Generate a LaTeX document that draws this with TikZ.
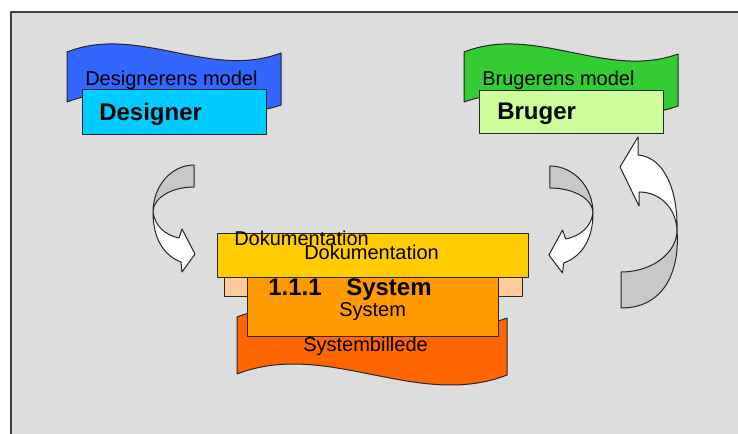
\documentclass[tikz,border=0pt]{standalone}
\usepackage{fontspec}
\setmainfont{Liberation Sans}
\definecolor{panelgray}{HTML}{DDDDDD}
\definecolor{frameline}{HTML}{404040}
\definecolor{waveblue}{HTML}{3366FF}
\definecolor{boxcyan}{HTML}{00CCFF}
\definecolor{wavegreen}{HTML}{33CC33}
\definecolor{boxlime}{HTML}{CCFF99}
\definecolor{docyellow}{HTML}{FFCC00}
\definecolor{peach}{HTML}{FFCC99}
\definecolor{sysorange}{HTML}{FF9900}
\definecolor{imgorange}{HTML}{FF6600}
\definecolor{backshade}{HTML}{C8C8C8}
\begin{document}
\begin{tikzpicture}[x=0.75pt, y=-0.75pt, line join=round,
  outline/.style={draw=black!85, line width=0.75pt},
  backpart/.style={outline, fill=backshade},
  frontpart/.style={outline, fill=white},
  lbl/.style={inner sep=0pt, anchor=base west, font=\fontsize{15pt}{18pt}\selectfont},
  blbl/.style={inner sep=0pt, anchor=base west, font=\fontsize{18pt}{21pt}\selectfont\bfseries},
  bendarrow/.pic={
    % twisted back half of the band
    \path[backpart] (0,0) .. controls (0,-26) and (18.4,-47) .. (41,-47)
      -- (41,-25) .. controls (18.4,-25) and (0,-14) .. cycle;
    % front half with the arrow head
    \path[frontpart] (0,0) .. controls (0,28) and (12,44) .. (28,50)
      -- (29,60) -- (42,42) -- (29,17) -- (26,26)
      .. controls (12,23) and (2,14) .. cycle;
  }]
\useasboundingbox (0,0) rectangle (738,433);
\clip (0,0) rectangle (738,433);
\fill[white] (0,0) rectangle (738,433);

% panel with its frame running off the right and bottom edges
\draw[fill=panelgray, draw=frameline, line width=1.2pt] (11,12) rectangle (760,460);

% designer's model
\path[outline, fill=waveblue] (67,52) .. controls (138,24) and (210,80) .. (281,53)
  -- (281,105) .. controls (210,130) and (138,74) .. (67,102) -- cycle;
\node[lbl] (dmodel) at (85,85) {Designerens model};
\path[outline, fill=boxcyan] (82,89) rectangle (266,134);
\node[blbl] (designer) at (99,120) {Designer};

% user's model
\path[outline, fill=wavegreen] (464,52) .. controls (535,24) and (607,80) .. (678,54)
  -- (678,106) .. controls (607,132) and (535,76) .. (464,102) -- cycle;
\node[lbl] (bmodel) at (482,85) {Brugerens model};
\path[outline, fill=boxlime] (479,90) rectangle (663,133);
\node[blbl] (bruger) at (497,119) {Bruger};

% system image stack
\path[outline, fill=imgorange] (237,317) .. controls (327,282) and (417,352) .. (507,318)
  -- (507,375) .. controls (417,410) and (327,339) .. (237,374) -- cycle;
\path[outline, fill=peach] (224,250) rectangle (522,296);
\path[outline, fill=sysorange] (247,270) rectangle (498,336);
\path[outline, fill=docyellow] (217,233) rectangle (528,277);
\node[lbl] (doc1) at (234,245) {Dokumentation};
\node[lbl] (doc2) at (304,259) {Dokumentation};
\node[blbl] (syshead) at (268,295) {1.1.1\hspace{18.5pt}System};
\node[lbl] (sys) at (339,316) {System};
\node[lbl] (sysimg) at (303,351) {Systembillede};

% curved block arrows
\pic at (153,212) {bendarrow};
\pic[xscale=-1.05] at (593,213) {bendarrow};

% large returning arrow up to the user
\path[backpart] (677,230) .. controls (680,270) and (665,308) .. (621,308)
  -- (621,272) .. controls (652,272) and (677,253) .. cycle;
\path[frontpart] (677,230) .. controls (678,190) and (664,157) .. (638,155)
  -- (638,137) -- (620,167) -- (639,206) -- (639,192)
  .. controls (660,192) and (676,208) .. cycle;
\end{tikzpicture}
\end{document}
